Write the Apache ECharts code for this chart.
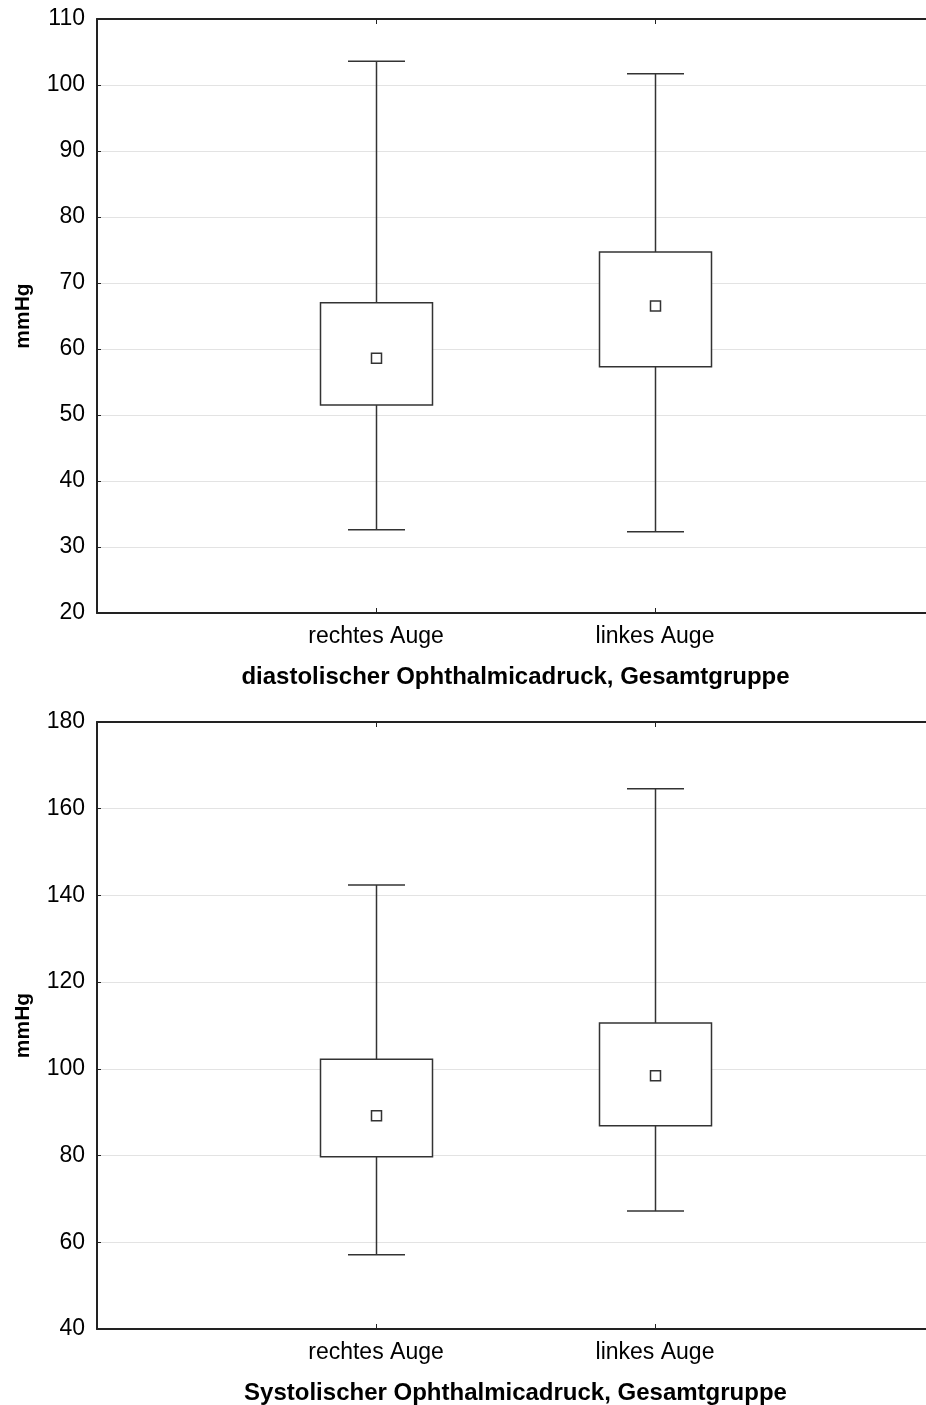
<!DOCTYPE html>
<html>
<head>
<meta charset="utf-8">
<script src="https://cdn.jsdelivr.net/npm/echarts@6/dist/echarts.min.js"></script>
<style>
html,body{margin:0;padding:0;background:#fff;overflow:hidden;}
#chart{width:926px;height:1405px;}
</style>
</head>
<body>
<div id="chart"></div>
<script>
// Categories and positions on x axis (0..3 range)
const categories = ['rechtes Auge', 'linkes Auge'];
const catPositions = [1, 2];

// Diastolic: whiskers, box edges, mean
const diaLow   = [32.6, 32.3];
const diaQ1    = [51.5, 57.3];
const diaMean  = [58.6, 66.5];
const diaQ3    = [67.0, 74.7];
const diaHigh  = [103.6, 101.7];

// Systolic
const sysLow   = [57.1, 67.2];
const sysQ1    = [79.7, 86.9];
const sysMean  = [89.2, 98.4];
const sysQ3    = [102.2, 110.6];
const sysHigh  = [142.4, 164.6];

const diaTicks = {min: 20, max: 110, interval: 10};
const sysTicks = {min: 40, max: 180, interval: 20};

const titles = ['diastolischer Ophthalmicadruck, Gesamtgruppe', 'Systolischer Ophthalmicadruck, Gesamtgruppe'];
const yName = 'mmHg';

const FONT = '"Liberation Sans", Arial, sans-serif';
const LINE = '#333';

function buildData(low, q1, mean, q3, high) {
  return catPositions.map((x, i) => [x, low[i], q1[i], mean[i], q3[i], high[i]]);
}

function renderBox(params, api) {
  const x = api.value(0);
  const pLow = api.coord([x, api.value(1)]);
  const pQ1 = api.coord([x, api.value(2)]);
  const pMean = api.coord([x, api.value(3)]);
  const pQ3 = api.coord([x, api.value(4)]);
  const pHigh = api.coord([x, api.value(5)]);
  const cx = Math.round(pLow[0]) + 0.5;
  const boxHalf = 56, capHalf = 28.5, m = 5;
  const st = {stroke: LINE, lineWidth: 1.5, fill: null};
  return {
    type: 'group',
    children: [
      {type: 'line', shape: {x1: cx, y1: pHigh[1], x2: cx, y2: pQ3[1]}, style: st},
      {type: 'line', shape: {x1: cx, y1: pQ1[1], x2: cx, y2: pLow[1]}, style: st},
      {type: 'line', shape: {x1: cx - capHalf, y1: pHigh[1], x2: cx + capHalf, y2: pHigh[1]}, style: st},
      {type: 'line', shape: {x1: cx - capHalf, y1: pLow[1], x2: cx + capHalf, y2: pLow[1]}, style: st},
      {type: 'rect', shape: {x: cx - boxHalf, y: pQ3[1], width: 2 * boxHalf, height: pQ1[1] - pQ3[1]}, style: {stroke: LINE, lineWidth: 1.5, fill: '#fff'}},
      {type: 'rect', shape: {x: cx - m, y: pMean[1] - m, width: 2 * m, height: 2 * m}, style: {stroke: LINE, lineWidth: 1.5, fill: '#fff'}}
    ]
  };
}

function xAxisFor(gridIndex, name) {
  return {
    gridIndex: gridIndex, type: 'value', min: 0, max: 3, interval: 1,
    position: 'bottom',
    name: name, nameLocation: 'middle', nameGap: 52,
    nameTextStyle: {fontFamily: FONT, fontWeight: 'bold', fontSize: 24, color: '#000'},
    axisLine: {show: true, onZero: false, lineStyle: {color: '#222', width: 2}},
    axisTick: {show: true, inside: true, length: 5, lineStyle: {color: '#222', width: 1}},
    axisLabel: {fontFamily: FONT, fontSize: 23, color: '#000', margin: 12,
      formatter: v => { const i = catPositions.indexOf(v); return i >= 0 ? categories[i] : ''; }},
    splitLine: {show: false}
  };
}
function xTopFor(gridIndex) {
  return {
    gridIndex: gridIndex, type: 'value', min: 0, max: 3, interval: 1, position: 'top',
    axisLine: {show: true, lineStyle: {color: '#222', width: 2}},
    axisTick: {show: true, inside: true, length: 5, lineStyle: {color: '#222', width: 1}},
    axisLabel: {show: false}, splitLine: {show: false}
  };
}
function yAxisFor(gridIndex, t) {
  return {
    gridIndex: gridIndex, type: 'value', min: t.min, max: t.max, interval: t.interval,
    name: yName, nameLocation: 'middle', nameGap: 63, nameRotate: 90,
    nameTextStyle: {fontFamily: FONT, fontWeight: 'bold', fontSize: 21, color: '#000'},
    axisLine: {show: true, lineStyle: {color: '#222', width: 2}},
    axisTick: {show: true, inside: true, length: 4, lineStyle: {color: '#222', width: 1}},
    axisLabel: {fontFamily: FONT, fontSize: 23, color: '#000', margin: 12},
    splitLine: {show: true, lineStyle: {color: '#e3e3e3', width: 1}}
  };
}

const chart = echarts.init(document.getElementById('chart'), null, {renderer: 'canvas'});
chart.setOption({
  animation: false,
  backgroundColor: '#fff',
  grid: [
    {left: 97, width: 837, top: 19, height: 594, containLabel: false, outerBoundsMode: 'none'},
    {left: 97, width: 837, top: 722, height: 607, containLabel: false, outerBoundsMode: 'none'}
  ],
  xAxis: [xAxisFor(0, titles[0]), xAxisFor(1, titles[1]), xTopFor(0), xTopFor(1)],
  yAxis: [yAxisFor(0, diaTicks), yAxisFor(1, sysTicks)],
  series: [
    {type: 'custom', xAxisIndex: 0, yAxisIndex: 0, renderItem: renderBox,
     encode: {x: 0, y: [1, 2, 3, 4, 5]}, data: buildData(diaLow, diaQ1, diaMean, diaQ3, diaHigh)},
    {type: 'custom', xAxisIndex: 1, yAxisIndex: 1, renderItem: renderBox,
     encode: {x: 0, y: [1, 2, 3, 4, 5]}, data: buildData(sysLow, sysQ1, sysMean, sysQ3, sysHigh)}
  ]
});
</script>
</body>
</html>
